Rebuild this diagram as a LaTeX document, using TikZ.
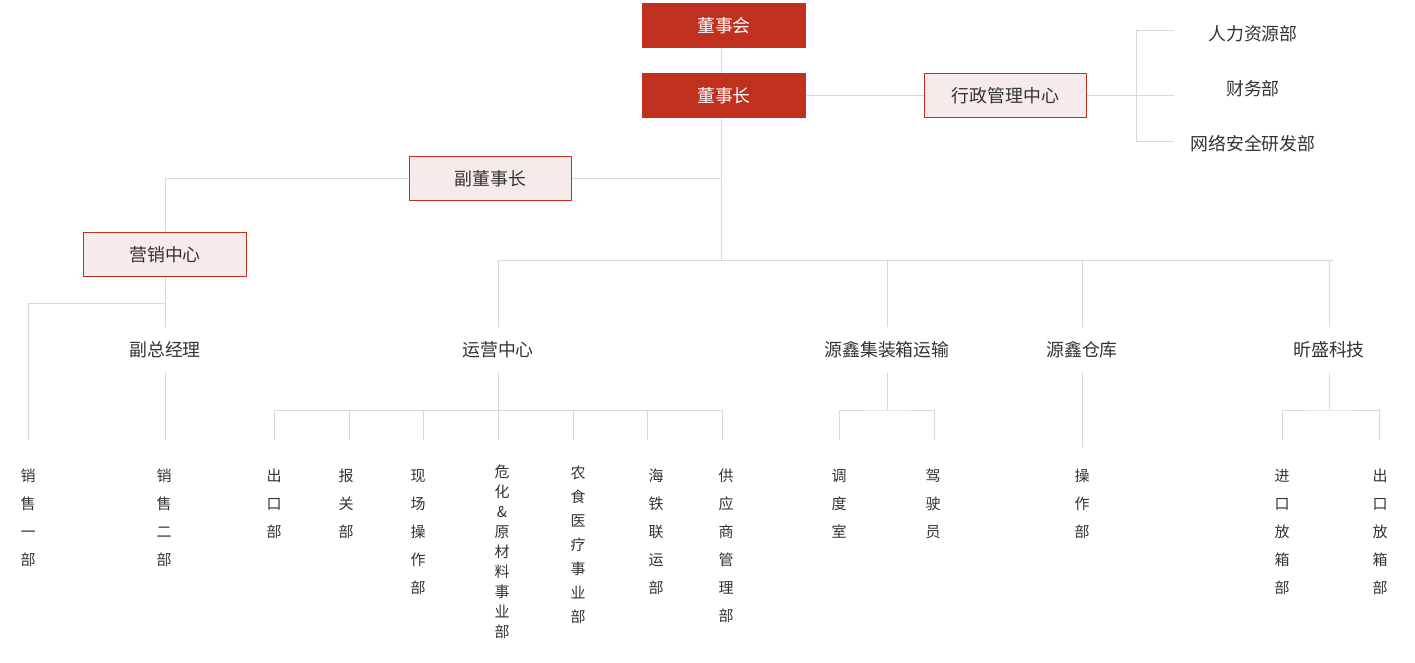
\documentclass[tikz,border=0pt]{standalone}
\usepackage{fontspec}
\newfontfamily\cjk{Noto Sans CJK SC}
\definecolor{boardred}{HTML}{C0301F}
\definecolor{boxpink}{HTML}{F5EBEA}
\definecolor{linegray}{HTML}{D9D9D9}
\definecolor{textgray}{HTML}{333333}
\tikzset{
  redbox/.style={fill=boardred, text=white, minimum width=123pt, minimum height=33.75pt, inner sep=0pt, font=\cjk\fontsize{13.4}{15}\selectfont},
  pinkbox/.style={draw=boardred, line width=0.75pt, fill=boxpink, text=textgray, minimum width=122pt, minimum height=33pt, inner sep=0pt, font=\cjk\fontsize{13.4}{15}\selectfont},
  unit/.style={text=textgray, minimum height=34.5pt, inner sep=0pt, font=\cjk\fontsize{13.4}{15}\selectfont},
  vunit/.style={text=textgray, anchor=north, inner sep=0pt, align=center, font=\cjk\fontsize{11.25}{21}\selectfont},
  link/.style={draw=linegray, line width=0.75pt}
}
\begin{document}
\begin{tikzpicture}[x=0.75pt, y=-0.75pt]
\useasboundingbox (0,0) rectangle (1415,663);
\node[redbox] (dsh) at (724,25.5) {董事会};
\node[redbox] (dsz) at (724,95.5) {董事长};
\node[pinkbox] (xz) at (1005.5,95.5) {行政管理中心};
\node[pinkbox] (fdsz) at (490.5,178.5) {副董事长};
\node[pinkbox] (yx) at (165,254.5) {营销中心};
\coordinate (trunk) at (721,261);
\draw[link] (dsh.south -| trunk) -- (dsz.north -| trunk);
\draw[link] (dsz.south -| trunk) -- (trunk);
\draw[link] (dsz.east) -- (xz.west);
\draw[link] (fdsz.east) -- (fdsz.east -| trunk);
\draw[link] (fdsz.west) -| (yx.north);
\node[unit] (rl) at (1253,34) {人力资源部};
\node[unit] (cw) at (1253,89) {财务部};
\node[unit] (wl) at (1253,144) {网络安全研发部};
\coordinate (brk) at (1136,95.5);
\coordinate (rl-end) at (1174,31);
\coordinate (cw-end) at (1174,95.5);
\coordinate (wl-end) at (1174,142);
\draw[link] (xz.east) -- (cw-end);
\draw[link] (rl-end) -- (rl-end -| brk) -- (wl-end -| brk) -- (wl-end);
\node[unit] (fz) at (165,350) {副总经理};
\node[unit] (yy) at (498,350) {运营中心};
\node[unit] (jz) at (887,350) {源鑫集装箱运输};
\node[unit] (ck) at (1082,350) {源鑫仓库};
\node[unit] (xk) at (1329,350) {昕盛科技};
\coordinate (barL) at (498,261);
\coordinate (barR) at (1333,261);
\draw[link] (barL) -- (barR);
\foreach \u in {yy,jz,ck,xk} \draw[link] (\u |- barL) -- (\u.north);
\coordinate (fork) at (165,304);
\coordinate (xs1) at (28,440);
\coordinate (xs2) at (165,440);
\draw[link] (yx.south) -- (fz.north);
\draw[link] (fork) -| (xs1);
\draw[link] (fz.south) -- (xs2);
\coordinate (yybar) at (498,410);
\coordinate (d1) at (274,440);
\coordinate (d2) at (349,440);
\coordinate (d3) at (423,440);
\coordinate (d4) at (498,440);
\coordinate (d5) at (573,440);
\coordinate (d6) at (647,440);
\coordinate (d7) at (722,440);
\draw[link] (yy.south) -- (yybar);
\draw[link] (d1 |- yybar) -- (d7 |- yybar);
\foreach \i in {1,...,7} \draw[link] (d\i |- yybar) -- (d\i);
\coordinate (jzbar) at (887,410);
\coordinate (e1) at (839,440);
\coordinate (e2) at (934,440);
\draw[link] (jz.south) -- (jzbar);
\draw[link] (e1) |- (jzbar) -| (e2);
\coordinate (ck-end) at (1082,447);
\draw[link] (ck.south) -- (ck-end);
\coordinate (xkbar) at (1329,410);
\coordinate (f1) at (1282,440);
\coordinate (f2) at (1379,440);
\draw[link] (xk.south) -- (xkbar);
\draw[link] (f1) |- (xkbar) -| (f2);
\node[vunit] (xsyb) at (28,469) {销\\售\\一\\部};
\node[vunit] (xseb) at (164,469) {销\\售\\二\\部};
\node[vunit] (ckb) at (274,469) {出\\口\\部};
\node[vunit] (bgb) at (346,469) {报\\关\\部};
\node[vunit] (xcb) at (418,469) {现\\场\\操\\作\\部};
\node[vunit, font=\cjk\fontsize{11.25}{15}\selectfont] (whb) at (502,465) {危\\化\\\&\\原\\材\\料\\事\\业\\部};
\node[vunit, font=\cjk\fontsize{11.25}{18}\selectfont] (nsb) at (578,466) {农\\食\\医\\疗\\事\\业\\部};
\node[vunit] (htb) at (656,469) {海\\铁\\联\\运\\部};
\node[vunit] (gyb) at (726,469) {供\\应\\商\\管\\理\\部};
\node[vunit] (dds) at (839,469) {调\\度\\室};
\node[vunit] (jsy) at (933,469) {驾\\驶\\员};
\node[vunit] (czb) at (1082,469) {操\\作\\部};
\node[vunit] (jkb) at (1282,469) {进\\口\\放\\箱\\部};
\node[vunit] (ckfb) at (1380,469) {出\\口\\放\\箱\\部};
\end{tikzpicture}
\end{document}
